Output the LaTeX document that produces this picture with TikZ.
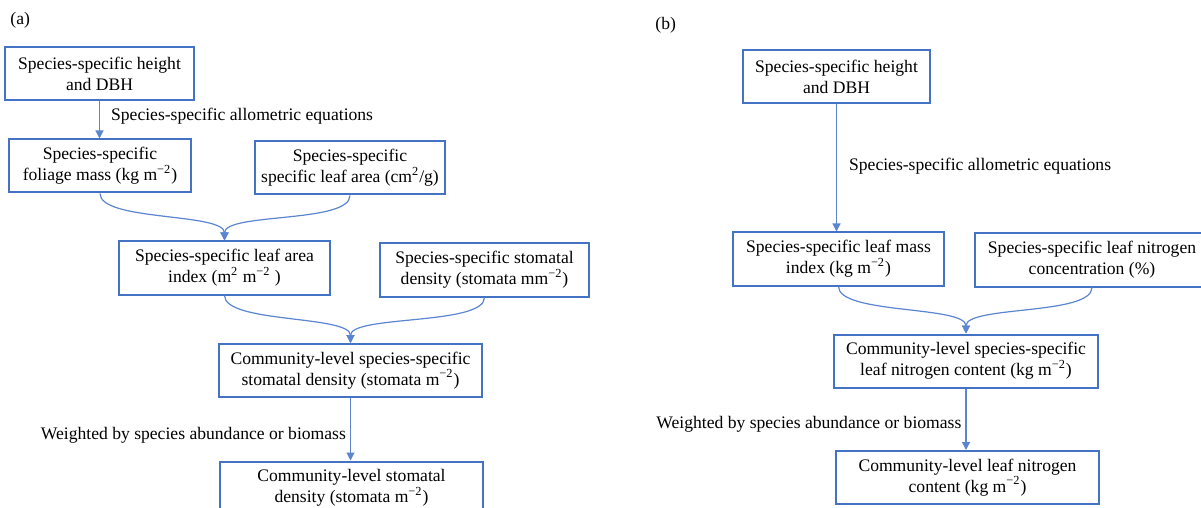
\documentclass[tikz,border=0pt]{standalone}
\usepackage{fontspec}
\setmainfont{Liberation Serif}
\usetikzlibrary{arrows.meta}

\definecolor{boxblue}{HTML}{4472C4}
\definecolor{lineblue}{HTML}{5B85D0}

\tikzset{
  box/.style={draw=boxblue, line width=1pt, align=center, inner sep=1pt,
    minimum height=26.5pt, font=\fontsize{8.8}{10.5}\selectfont},
  lbl/.style={inner sep=0pt, font=\fontsize{8.8}{10.5}\selectfont},
}

\begin{document}
\begin{tikzpicture}[x=0.5pt,y=0.5pt,yscale=-1]
  \tikzstyle{arrow} = [draw=lineblue, line width=0.6pt, -{Triangle[length=4pt,width=4pt]}]
  \useasboundingbox (0,0) rectangle (1201,508);
  \clip (0,0) rectangle (1201,508);
  %Panel labels
  \node[lbl, anchor=west] (pa) at (10,20) {(a)};
  \node[lbl, anchor=west] (pb) at (655,25) {(b)};
  %Draw the boxes of (a)
  \node[box, minimum width=94.5pt] (a1) at (99.5,74) {Species-specific height\\and DBH};
  \node[box, minimum width=91pt] (a2) at (100,166) {Species-specific\\foliage mass (kg m\textsuperscript{−2})};
  \node[box, minimum width=95pt] (a3) at (350,168) {Species-specific\\specific leaf area (cm\textsuperscript{2}/g)};
  \node[box, minimum width=105.5pt] (a4) at (224.5,268) {Species-specific leaf area\\index (m\textsuperscript{2} m\textsuperscript{−2} )};
  \node[box, minimum width=104.5pt] (a5) at (484.5,270) {Species-specific stomatal\\density (stomata mm\textsuperscript{−2})};
  \node[box, minimum width=131.5pt] (a6) at (350.5,370.5) {Community-level species-specific\\stomatal density (stomata m\textsuperscript{−2})};
  \node[box, minimum width=131.5pt] (a7) at (351.5,488) {Community-level stomatal\\density (stomata m\textsuperscript{−2})};
  %Draw the boxes of (b)
  \node[box, minimum width=93.5pt] (b1) at (836.5,76.5) {Species-specific height\\and DBH};
  \node[box, minimum width=105.5pt] (b2) at (838.5,259) {Species-specific leaf mass\\index (kg m\textsuperscript{−2})};
  \node[box, minimum width=117pt] (b3) at (1092,260) {Species-specific leaf nitrogen\\concentration (\%)};
  \node[box, minimum width=132pt] (b4) at (966,361) {Community-level species-specific\\leaf nitrogen content (kg m\textsuperscript{−2})};
  \node[box, minimum width=131.5pt] (b5) at (967.5,477.5) {Community-level leaf nitrogen\\content (kg m\textsuperscript{−2})};
  %Straight arrows with labels
  \draw[arrow] (a1.south) -- node[lbl, pos=0.41, anchor=west, xshift=5.5pt] {Species-specific allometric equations} (a1.south |- a2.north);
  \draw[arrow] (a6.south) -- node[lbl, pos=0.6, anchor=east, xshift=-2pt] {Weighted by species abundance or biomass} (a6.south |- a7.north);
  \draw[arrow] (b1.south) -- node[lbl, pos=0.49, anchor=west, xshift=6pt] {Species-specific allometric equations} (b1.south |- b2.north);
  \draw[arrow] (b4.south) -- node[lbl, pos=0.58, anchor=east, xshift=-2pt] {Weighted by species abundance or biomass} (b4.south |- b5.north);
  %Curved arrows
  \draw[arrow] (a2.south) .. controls +(0,28) and +(0,-28) .. (a4.north);
  \draw[arrow] (a3.south) .. controls +(0,28) and +(0,-28) .. (a4.north);
  \draw[arrow] (a4.south) .. controls +(0,28) and +(0,-28) .. (a6.north);
  \draw[arrow] (a5.south) .. controls +(0,28) and +(0,-28) .. (a6.north);
  \draw[arrow] (b2.south) .. controls +(0,28) and +(0,-28) .. (b4.north);
  \draw[arrow] (b3.south) .. controls +(0,28) and +(0,-28) .. (b4.north);
\end{tikzpicture}
\end{document}
